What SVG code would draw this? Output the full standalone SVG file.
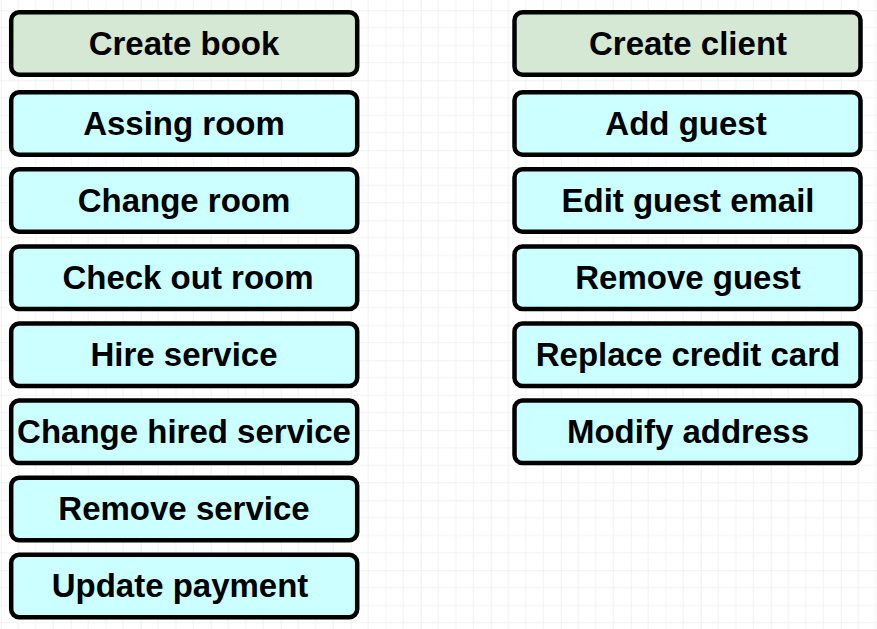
<svg xmlns="http://www.w3.org/2000/svg" width="877" height="629" viewBox="0 0 877 629">
  <defs>
    <pattern id="grid" patternUnits="userSpaceOnUse" x="0.7" y="10.3" width="70" height="70">
      <path d="M17.5 0V70M35 0V70M52.5 0V70M0 17.5H70M0 35H70M0 52.5H70" stroke="#f2f2f2" stroke-width="1" fill="none"/>
      <path d="M0 0V70M0 0H70" stroke="#e4e4e4" stroke-width="1" fill="none"/>
    </pattern>
    <style>
      .box { stroke: #000; stroke-width: 4.5; }
      .start { fill: #d5e8d4; }
      .step { fill: #ccffff; }
      .lbl { font-family: "Liberation Sans", Arial, sans-serif; font-weight: bold; font-size: 33px; fill: #000; text-anchor: middle; }
    </style>
  </defs>

  <rect width="877" height="629" fill="#ffffff"/>
  <rect width="877" height="629" fill="url(#grid)"/>

  <!-- booking operations -->
  <g id="create-book"><rect class="box start" x="11.2" y="12.2" width="346" height="62.5" rx="8"/><text class="lbl" x="184" y="54.5">Create book</text></g>
  <g id="assing-room"><rect class="box step" x="11.2" y="92.2" width="346" height="62.5" rx="8"/><text class="lbl" x="184" y="134.5">Assing room</text></g>
  <g id="change-room"><rect class="box step" x="11.2" y="169.3" width="346" height="62.5" rx="8"/><text class="lbl" x="184" y="211.6">Change room</text></g>
  <g id="check-out-room"><rect class="box step" x="11.2" y="246.4" width="346" height="62.5" rx="8"/><text class="lbl" x="188" y="288.7">Check out room</text></g>
  <g id="hire-service"><rect class="box step" x="11.2" y="323.5" width="346" height="62.5" rx="8"/><text class="lbl" x="184" y="365.8">Hire service</text></g>
  <g id="change-hired-service"><rect class="box step" x="11.2" y="400.6" width="346" height="62.5" rx="8"/><text class="lbl" x="184" y="442.9">Change hired service</text></g>
  <g id="remove-service"><rect class="box step" x="11.2" y="477.7" width="346" height="62.5" rx="8"/><text class="lbl" x="184" y="520">Remove service</text></g>
  <g id="update-payment"><rect class="box step" x="11.2" y="554.8" width="346" height="62.5" rx="8"/><text class="lbl" x="180" y="597.1">Update payment</text></g>

  <!-- client operations -->
  <g id="create-client"><rect class="box start" x="514.5" y="12.2" width="346" height="62.5" rx="8"/><text class="lbl" x="688" y="54.5">Create client</text></g>
  <g id="add-guest"><rect class="box step" x="514.5" y="92.2" width="346" height="62.5" rx="8"/><text class="lbl" x="686" y="134.5">Add guest</text></g>
  <g id="edit-guest-email"><rect class="box step" x="514.5" y="169.3" width="346" height="62.5" rx="8"/><text class="lbl" x="688" y="211.6">Edit guest email</text></g>
  <g id="remove-guest"><rect class="box step" x="514.5" y="246.4" width="346" height="62.5" rx="8"/><text class="lbl" x="688" y="288.7">Remove guest</text></g>
  <g id="replace-credit-card"><rect class="box step" x="514.5" y="323.5" width="346" height="62.5" rx="8"/><text class="lbl" x="688" y="365.8">Replace credit card</text></g>
  <g id="modify-address"><rect class="box step" x="514.5" y="400.6" width="346" height="62.5" rx="8"/><text class="lbl" x="688" y="442.9">Modify address</text></g>

  <g id="connectors"/>
</svg>
